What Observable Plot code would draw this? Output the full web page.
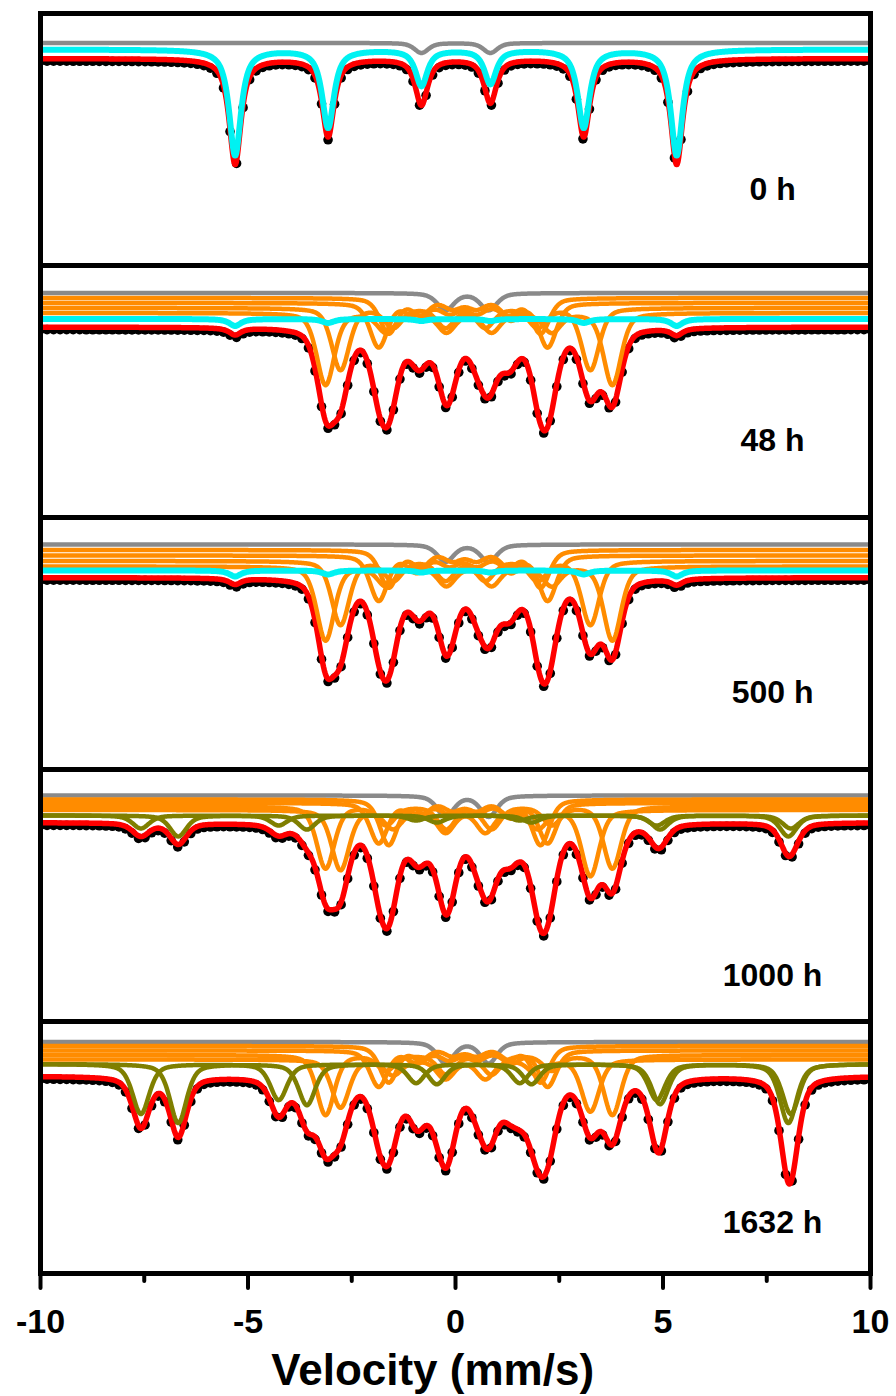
<!DOCTYPE html>
<html>
<head>
<meta charset="utf-8">
<script src="https://cdn.jsdelivr.net/npm/d3@7"></script>
<script src="https://cdn.jsdelivr.net/npm/@observablehq/plot@0.6"></script>
<style>
  html, body { margin: 0; padding: 0; background: #fff; }
</style>
</head>
<body>
<div id="chart"></div>
<script>
// ---------------- data ----------------
const panels = ["0 h", "48 h", "500 h", "1000 h", "1632 h"];
const panelLabelX = 7.64;
const panelLabelY = [0.870, 0.8705, 0.871, 0.840, 0.8445];

const xTicksMajor = [-10, -5, 0, 5, 10];
const xTicksMinor = [-7.5, -2.5, 2.5, 7.5];
const xLabel = "Velocity (mm/s)";

// total fit (red) baseline per panel (relative transmission)
const totalBase = [1.001, 0.9845, 0.986, 0.993, 0.9915];

// grey doublet
const grayBase  = [1.0165, 1.0185, 1.019, 1.020, 1.0255];
const grayLines = [[-0.82, 0.84], [-0.24, 0.80], [-0.24, 0.80], [-0.24, 0.80], [-0.24, 0.80]];
const grayDepth = [[0.010, 0.010], [0.017, 0.017], [0.017, 0.017], [0.021, 0.021], [0.021, 0.021]];
const grayWidth = [0.40, 0.48, 0.48, 0.48, 0.48];
const grayLorentz = 0.5;

// cyan sextet (alpha-Fe)
const cyanLines = [-5.31, -3.07, -0.82, 0.84, 3.09, 5.33];
const cyanBase  = [1.010, 0.9925, 0.993, null, null];
const cyanDepth = [
  [0.106, 0.078, 0.036, 0.034, 0.078, 0.106],
  [0.007, 0.004, 0.002, 0.002, 0.004, 0.007],
  [0.006, 0.004, 0.002, 0.002, 0.004, 0.006],
  null, null
];
const cyanWidth = 0.34;
const cyanLorentz = 0.85;

// orange sextets S1..S4
const orangeLines = [
  [-3.13, -1.67, -0.22, 0.87, 2.32, 3.78],
  [-2.77, -1.50, -0.24, 0.72, 1.98, 3.25],
  [-1.85, -0.93, -0.14, 0.51, 1.34, 2.22],
  [-1.61, -0.84, -0.07, 0.51, 1.28, 2.05]
];
const orangeBase = [
  null,
  [0.9985, 1.0035, 1.0085, 1.0135],
  [0.997, 1.0025, 1.008, 1.0135],
  [1.009, 1.0055, 1.0125, 1.016],
  [1.0125, 1.008, 1.017, 1.0215]
];
const orangeDepth = [
  null,
  [[0.072, 0.019, 0.019, 0.019, 0.019, 0.072],
   [0.062, 0.019, 0.019, 0.019, 0.019, 0.062],
   [0.044, 0.016, 0.010, 0.010, 0.016, 0.044],
   [0.035, 0.016, 0.010, 0.010, 0.016, 0.035]],
  [[0.074, 0.019, 0.019, 0.019, 0.019, 0.074],
   [0.064, 0.019, 0.019, 0.019, 0.019, 0.064],
   [0.045, 0.016, 0.010, 0.010, 0.016, 0.045],
   [0.037, 0.016, 0.010, 0.010, 0.016, 0.037]],
  [[0.062, 0.018, 0.022, 0.022, 0.018, 0.062],
   [0.060, 0.018, 0.022, 0.022, 0.018, 0.066],
   [0.040, 0.014, 0.010, 0.010, 0.014, 0.040],
   [0.045, 0.014, 0.010, 0.010, 0.014, 0.045]],
  [[0.060, 0.015, 0.019, 0.019, 0.015, 0.060],
   [0.048, 0.015, 0.019, 0.019, 0.015, 0.052],
   [0.036, 0.012, 0.009, 0.009, 0.012, 0.036],
   [0.036, 0.012, 0.009, 0.009, 0.012, 0.036]]
];
const orangeWidth = 0.50;
const orangeLorentz = 0.4;

// olive sextets (two sites)
const oliveLines = [
  [-7.58, -4.26, -0.95, 1.55, 4.85, 8.08],
  [-6.68, -3.58, -0.45, 1.83, 4.93, 8.02]
];
const oliveBase = [null, null, null, [1.000, 1.000], [1.0035, 1.0035]];
const oliveDepth = [
  null, null, null,
  [[0.013, 0.010, 0.005, 0.005, 0.010, 0.013],
   [0.021, 0.014, 0.007, 0.007, 0.014, 0.021]],
  [[0.050, 0.036, 0.019, 0.019, 0.036, 0.050],
   [0.059, 0.041, 0.020, 0.020, 0.040, 0.059]]
];
const oliveWidth = 0.48;
const oliveLorentz = 0.5;

// ---------------- build the curves ----------------
// pseudo-Voigt absorption line sum
function dip(v, lines, depths, gamma, eta) {
  let s = 0;
  for (let i = 0; i < lines.length; i++) {
    const u = 4 * ((v - lines[i]) / gamma) ** 2;
    s += depths[i] * (eta / (1 + u) + (1 - eta) * Math.exp(-Math.LN2 * u));
  }
  return s;
}

const vGrid = d3.range(0, 1001).map(i => -10 + i * 0.02);
const vChannels = d3.range(0, 128).map(i => -10 + i * 20 / 127);

const rows = { gray: [], orange: [], olive: [], cyan: [], total: [], dots: [] };

panels.forEach((panel, p) => {
  const comps = [];
  comps.push({fam: "gray", key: "g", base: grayBase[p], lines: grayLines[p], depths: grayDepth[p], w: grayWidth[p], eta: grayLorentz});
  if (orangeDepth[p]) orangeLines.forEach((L, k) =>
    comps.push({fam: "orange", key: "o" + k, base: orangeBase[p][k], lines: L, depths: orangeDepth[p][k], w: orangeWidth, eta: orangeLorentz}));
  if (oliveDepth[p]) oliveLines.forEach((L, k) =>
    comps.push({fam: "olive", key: "v" + k, base: oliveBase[p][k], lines: L, depths: oliveDepth[p][k], w: oliveWidth, eta: oliveLorentz}));
  if (cyanDepth[p])
    comps.push({fam: "cyan", key: "c", base: cyanBase[p], lines: cyanLines, depths: cyanDepth[p], w: cyanWidth, eta: cyanLorentz});

  for (const v of vGrid) {
    let sum = 0;
    for (const c of comps) {
      const d = dip(v, c.lines, c.depths, c.w, c.eta);
      sum += d;
      rows[c.fam].push({panel, z: panel + c.key, v, y: c.base - d});
    }
    rows.total.push({panel, v, y: totalBase[p] - sum});
  }
  for (const v of vChannels) {
    let sum = 0;
    for (const c of comps) sum += dip(v, c.lines, c.depths, c.w, c.eta);
    rows.dots.push({panel, v, y: totalBase[p] - sum});
  }
});

const labelRows = panels.map((panel, i) => ({panel, text: panel, y: panelLabelY[i]}));

const FONT = "'Liberation Sans', Arial, Helvetica, sans-serif";

const chart = Plot.plot({
  width: 896,
  height: 1396,
  marginTop: 12,
  marginBottom: 123,
  marginLeft: 40,
  marginRight: 26,
  style: {fontFamily: FONT, background: "#fff", color: "#000", overflow: "visible"},
  x: {domain: [-10, 10], axis: null},
  y: {domain: [0.7938, 1.046], axis: null},
  fy: {domain: panels, padding: 0, axis: null, label: null},
  marks: [
    Plot.dot(rows.dots, {x: "v", y: "y", fy: "panel", r: 4.8, fill: "#000", stroke: "none", dy: 2.5, clip: true}),
    Plot.line(rows.total, {x: "v", y: "y", fy: "panel", stroke: "#ff0000", strokeWidth: 5.5, clip: true}),
    Plot.line(rows.gray, {x: "v", y: "y", z: "z", fy: "panel", stroke: "#8a8a8a", strokeWidth: 4.5, clip: true}),
    Plot.line(rows.orange, {x: "v", y: "y", z: "z", fy: "panel", stroke: "#ff8c00", strokeWidth: 4.5, clip: true}),
    Plot.line(rows.olive, {x: "v", y: "y", z: "z", fy: "panel", stroke: "#7f7f00", strokeWidth: 4.5, clip: true}),
    Plot.line(rows.cyan, {x: "v", y: "y", z: "z", fy: "panel", stroke: "#00f2f2", strokeWidth: 6, clip: true}),
    Plot.text(labelRows, {x: () => panelLabelX, y: "y", fy: "panel", text: "text",
      fontSize: 32, fontWeight: "bold", textAnchor: "middle", lineAnchor: "middle", fill: "#000"}),
    Plot.frame({stroke: "#000", strokeWidth: 5}),
    Plot.axisX(xTicksMajor, {anchor: "bottom", tickSize: 15, tickPadding: 20, strokeWidth: 4,
      strokeLinecap: "round", fontSize: 34, fontWeight: "bold", tickFormat: d => String(d),
      label: null, fill: "#000"}),
    Plot.axisX(xTicksMinor, {anchor: "bottom", tickSize: 8, strokeWidth: 4, strokeLinecap: "round",
      tickFormat: () => "", label: null}),
    Plot.text([xLabel], {x: () => -0.55, fy: () => panels[4], frameAnchor: "bottom", dy: 97,
      text: d => d, fontSize: 44, fontWeight: "bold", textAnchor: "middle", lineAnchor: "middle", fill: "#000"})
  ]
});

document.getElementById("chart").appendChild(chart);
</script>
</body>
</html>
